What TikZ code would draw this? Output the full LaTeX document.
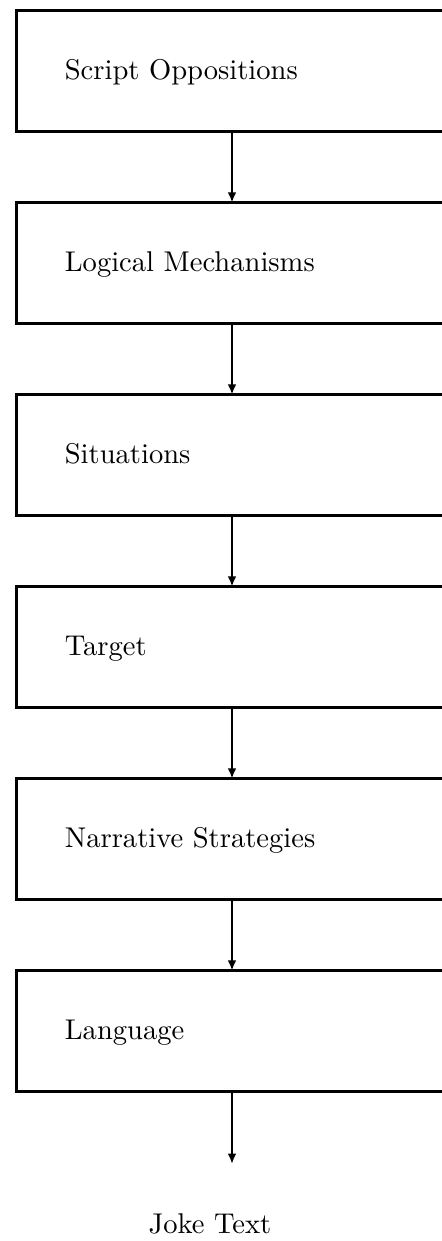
\documentclass[tikz,border=0pt]{standalone}
\usepackage{tikz}
\usetikzlibrary{arrows.meta,positioning}

\begin{document}
\begin{tikzpicture}[
  x=0.35pt,y=-0.35pt,
  node distance=25pt,
  box/.style={draw=black,line width=1.05pt,minimum height=42.2pt,text width=117pt,inner xsep=17pt,text height=7.9pt,text depth=2pt,align=left,outer sep=0pt},
  arrow/.style={-{Latex[length=3.6pt,width=3pt]},line width=0.9pt,draw=black}
]
\useasboundingbox (0,0) rectangle (442,1241);
\node[box] (so) at (232,71) {Script Oppositions};
\node[box,below=of so] (lm) {Logical Mechanisms};
\node[box,below=of lm] (sit) {Situations};
\node[box,below=of sit] (tgt) {Target};
\node[box,below=of tgt] (ns) {Narrative Strategies};
\node[box,below=of ns] (lang) {Language};
\node[anchor=base] (joke) at (210,1233) {Joke Text};
\coordinate (jokein) at (232,1164);
\draw[arrow] (so) -- (lm);
\draw[arrow] (lm) -- (sit);
\draw[arrow] (sit) -- (tgt);
\draw[arrow] (tgt) -- (ns);
\draw[arrow] (ns) -- (lang);
\draw[arrow] (lang) -- (jokein);
\end{tikzpicture}
\end{document}
